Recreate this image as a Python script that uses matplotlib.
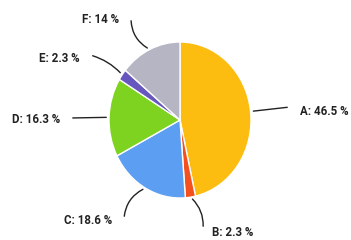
import matplotlib
matplotlib.use("Agg")
import matplotlib.pyplot as plt
import numpy as np

categories = ["A", "B", "C", "D", "E", "F"]
values = [46.5, 2.3, 18.6, 16.3, 2.3, 14.0]
colors = ["#FDBD10", "#F4511E", "#5C9EF2", "#7ED321", "#6656BD", "#B5B5C3"]

# layout: label text anchor (pixel coords), leader end point (pixel), alignment, curvature
layout = {
    "A": dict(text=(300, 111), end=(290, 107), ha="left", rad=0.0),
    "B": dict(text=(212, 233), end=(203, 229), ha="left", rad=0.25),
    "C": dict(text=(112, 221), end=(124, 219), ha="right", rad=-0.3),
    "D": dict(text=(60, 119), end=(70, 118), ha="right", rad=0.0),
    "E": dict(text=(80, 58), end=(90, 55), ha="right", rad=-0.15),
    "F": dict(text=(119, 19), end=(131, 18), ha="right", rad=0.3),
}

W, H = 351, 240
CX, CY, RX, RY = 180, 120, 71, 78

def px2d(px, py):
    return ((px - CX) / RX, (CY - py) / RY)

fig = plt.figure(figsize=(W / 100, H / 100), dpi=100)
ax = fig.add_axes([0, 0, 1, 1])
wedges, _ = ax.pie(values, colors=colors, startangle=90, counterclock=False,
                   radius=1, center=(0, 0),
                   wedgeprops=dict(edgecolor="white", linewidth=1.0))
ax.set_aspect("auto")
ax.set_xlim(-CX / RX, (W - CX) / RX)
ax.set_ylim(-(H - CY) / RY, CY / RY)
ax.axis("off")

for w, cat, val in zip(wedges, categories, values):
    ang = np.deg2rad((w.theta1 + w.theta2) / 2)
    start = (np.cos(ang), np.sin(ang))
    L = layout[cat]
    end = px2d(*L["end"])
    ax.annotate("", xy=start, xytext=end,
                arrowprops=dict(arrowstyle="-", color="#222222", lw=1.0,
                                connectionstyle=f"arc3,rad={L['rad']}"))
    tx, ty = px2d(*L["text"])
    lbl = f"{cat}: {val:g} %"
    ax.text(tx, ty, lbl, ha=L["ha"], va="center", fontsize=8.3,
            fontfamily="Roboto", fontweight="bold", color="#222222")

fig.savefig("out.png", dpi=100)
